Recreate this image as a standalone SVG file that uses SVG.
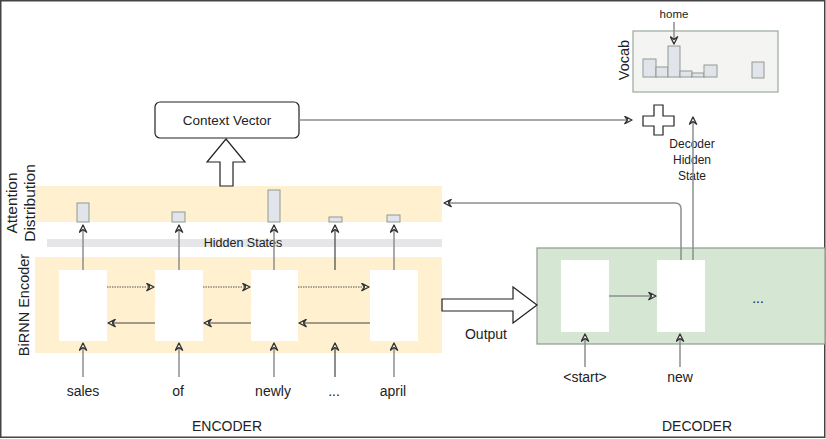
<svg xmlns="http://www.w3.org/2000/svg" width="826" height="439" viewBox="0 0 826 439">
<style>
text{font-family:"Liberation Sans",Arial,sans-serif;fill:#222}
.band{fill:#fff0cf}
.cell{fill:#ffffff}
.bar{fill:#e1e4ea;stroke:#8f9a8f;stroke-width:1}
.ln{stroke:#8a8f8c;stroke-width:1.5;fill:none}
.dk{stroke:#444;stroke-width:1.2;fill:none}
.dot{stroke:#555;stroke-width:1.2;stroke-dasharray:1.5 1;fill:none}
.blk{fill:#fff;stroke:#222;stroke-width:1.2}
</style>
<defs>
<marker id="ah" viewBox="0 0 10 10" refX="9" refY="5" markerWidth="9" markerHeight="9" markerUnits="userSpaceOnUse" orient="auto">
<path d="M1,1 L9,5 L1,9 L4,5 Z" fill="#fff" stroke="#333" stroke-width="1.5" stroke-linejoin="round"/>
</marker>
</defs>
<rect x="0.75" y="0.75" width="824" height="436.5" fill="#fff" stroke="#444" stroke-width="1.5"/>

<g id="attention-band">
<rect class="band" x="35" y="186" width="407" height="36"/>
<rect class="bar" x="77" y="203" width="12" height="19"/>
<rect class="bar" x="172" y="212" width="13" height="10"/>
<rect class="bar" x="268" y="190" width="12" height="32"/>
<rect class="bar" x="329" y="217" width="13" height="5"/>
<rect class="bar" x="387" y="215" width="13" height="7"/>
<text x="30" y="203" font-size="15.5" text-anchor="middle" transform="rotate(-90 30 203)"><tspan x="30" dy="-13">Attention</tspan><tspan x="30" dy="18">Distribution</tspan></text>
</g>

<g id="hidden-states">
<rect x="47" y="239" width="395" height="8" fill="#e6e6e8"/>
<text x="243" y="247" font-size="12.5" text-anchor="middle">Hidden States</text>
</g>

<g id="birnn-encoder">
<rect class="band" x="35" y="257" width="407" height="96"/>
<text x="25" y="305" font-size="14.5" text-anchor="middle" dominant-baseline="middle" transform="rotate(-90 25 305)">BiRNN Encoder</text>
<rect class="cell" x="59" y="270" width="48" height="71"/>
<rect class="cell" x="155" y="270" width="48" height="71"/>
<rect class="cell" x="251" y="270" width="47" height="71"/>
<rect class="cell" x="370" y="270" width="48" height="71"/>
</g>

<g id="context-vector">
<rect x="155" y="102" width="144" height="36" rx="5" fill="#fff" stroke="#222" stroke-width="1.2"/>
<text x="227" y="125" font-size="13.5" text-anchor="middle">Context Vector</text>
</g>

<g id="vocab">
<rect x="633" y="31" width="145" height="61" fill="#f4f4f2" stroke="#9aaa9a" stroke-width="1.2"/>
<text x="625" y="60" font-size="14.5" text-anchor="middle" dominant-baseline="middle" transform="rotate(-90 625 60)">Vocab</text>
<rect class="bar" x="643" y="59" width="13" height="18"/>
<rect class="bar" x="656" y="67" width="12" height="10"/>
<rect class="bar" x="668" y="46" width="12" height="31"/>
<rect class="bar" x="680" y="71" width="12" height="6"/>
<rect class="bar" x="692" y="73" width="12" height="4"/>
<rect class="bar" x="704" y="65" width="13" height="12"/>
<rect class="bar" x="752" y="62" width="12" height="16"/>
<text x="674" y="18" font-size="11.5" text-anchor="middle">home</text>
</g>

<g id="plus">
<path class="blk" d="M654,105 H663 V116 H674 V126 H663 V135 H654 V126 H643 V116 H654 Z"/>
</g>

<g id="decoder">
<rect x="537" y="248" width="288" height="96" fill="#d5e6d3" stroke="#8f9a8f" stroke-width="1.2"/>
<rect class="cell" x="561" y="260" width="48" height="72"/>
<rect class="cell" x="657" y="260" width="48" height="72"/>
<text x="758" y="303" font-size="14" text-anchor="middle">...</text>
</g>

<g id="labels">
<text x="83" y="396" font-size="14" text-anchor="middle">sales</text>
<text x="178" y="396" font-size="14" text-anchor="middle">of</text>
<text x="273" y="396" font-size="14" text-anchor="middle">newly</text>
<text x="334" y="396" font-size="14" text-anchor="middle">...</text>
<text x="393" y="396" font-size="14" text-anchor="middle">april</text>
<text x="585" y="382" font-size="14" text-anchor="middle">&lt;start&gt;</text>
<text x="680" y="382" font-size="14" text-anchor="middle">new</text>
<text x="227" y="431" font-size="14" text-anchor="middle">ENCODER</text>
<text x="697" y="431" font-size="14" text-anchor="middle">DECODER</text>
<text x="486" y="339" font-size="14" text-anchor="middle">Output</text>
<text x="692" y="148" font-size="12" text-anchor="middle">Decoder</text>
<text x="692" y="164" font-size="12" text-anchor="middle">Hidden</text>
<text x="692" y="180" font-size="12" text-anchor="middle">State</text>
</g>

<g id="connectors">
<path class="blk" d="M220,186 V162 H207 L226,139 L245,162 H233 V186 Z"/>
<path class="blk" d="M442,299 H513 V287 L537,305 L513,323 V311 H442 Z"/>
<line class="ln" x1="83" y1="377" x2="83" y2="343" marker-end="url(#ah)"/>
<line class="ln" x1="179" y1="377" x2="179" y2="343" marker-end="url(#ah)"/>
<line class="ln" x1="274" y1="377" x2="274" y2="343" marker-end="url(#ah)"/>
<line class="dk" x1="335" y1="377" x2="335" y2="343" marker-end="url(#ah)"/>
<line class="ln" x1="394" y1="377" x2="394" y2="343" marker-end="url(#ah)"/>
<line class="ln" x1="83" y1="270" x2="83" y2="225" marker-end="url(#ah)"/>
<line class="ln" x1="179" y1="270" x2="179" y2="225" marker-end="url(#ah)"/>
<line class="ln" x1="274" y1="270" x2="274" y2="225" marker-end="url(#ah)"/>
<line class="dk" x1="335" y1="270" x2="335" y2="225" marker-end="url(#ah)"/>
<line class="ln" x1="394" y1="270" x2="394" y2="225" marker-end="url(#ah)"/>
<line class="dot" x1="107" y1="287" x2="154" y2="287" marker-end="url(#ah)"/>
<line class="dot" x1="203" y1="287" x2="250" y2="287" marker-end="url(#ah)"/>
<line class="dot" x1="298" y1="287" x2="369" y2="287" marker-end="url(#ah)"/>
<line class="dk" x1="155" y1="323" x2="108" y2="323" marker-end="url(#ah)"/>
<line class="dk" x1="251" y1="323" x2="204" y2="323" marker-end="url(#ah)"/>
<line class="dk" x1="370" y1="323" x2="299" y2="323" marker-end="url(#ah)"/>
<line class="ln" x1="299" y1="120" x2="632" y2="120" marker-end="url(#ah)"/>
<line class="ln" x1="674" y1="22" x2="674" y2="44" marker-end="url(#ah)"/>
<line class="ln" x1="609" y1="296" x2="656" y2="296" marker-end="url(#ah)"/>
<line class="ln" x1="585" y1="367" x2="585" y2="334" marker-end="url(#ah)"/>
<line class="ln" x1="680" y1="367" x2="680" y2="334" marker-end="url(#ah)"/>
<line class="ln" x1="693" y1="260" x2="693" y2="117" marker-end="url(#ah)"/>
<path class="ln" d="M681,260 V209 Q681,203 675,203 H444" marker-end="url(#ah)"/>
</g>
</svg>
